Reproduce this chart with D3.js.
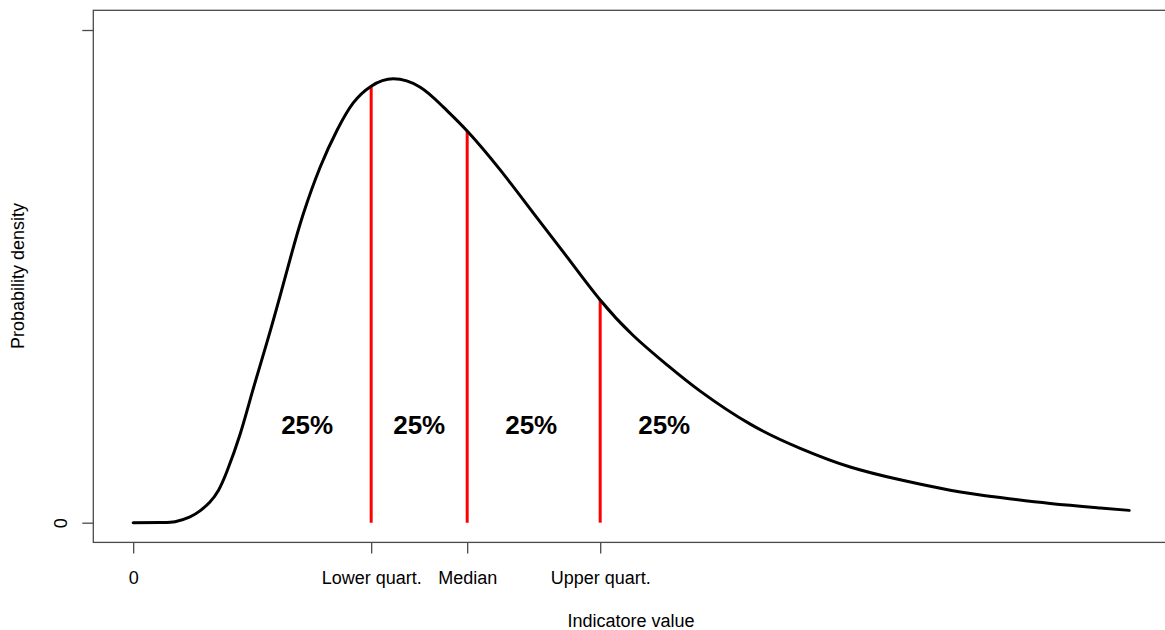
<!DOCTYPE html>
<html>
<head>
<meta charset="utf-8">
<script src="https://cdn.jsdelivr.net/npm/d3@7"></script>
<style>
  html, body { margin: 0; padding: 0; background: #fff; }
  svg { display: block; font-family: "Liberation Sans", Arial, sans-serif; }
</style>
</head>
<body>
<div id="chart"></div>
<script>
// density curve (x = indicator value, y = density)
const curveX = [0, 0.27, 0.42, 0.57, 0.67, 0.77, 0.856, 0.94, 1.07, 1.2, 1.34, 1.47, 1.585, 1.705, 1.876, 2.046, 2.207,
  2.387, 2.608, 2.879, 3.109, 3.35, 3.681, 4.012, 4.353, 4.684, 5.015, 5.356, 5.687, 6.189, 6.69, 7.192, 7.693, 8.195,
  8.696, 9.198, 9.699, 9.99];
const curveY = [0, 0.0004, 0.002, 0.012, 0.024, 0.042, 0.066, 0.104, 0.178, 0.269, 0.365, 0.458, 0.543, 0.626, 0.722,
  0.797, 0.852, 0.886, 0.901, 0.884, 0.844, 0.795, 0.716, 0.629, 0.539, 0.452, 0.38, 0.32, 0.267, 0.2, 0.151, 0.113,
  0.087, 0.066, 0.051, 0.039, 0.03, 0.025];

// quartile positions and the height of the red lines
const quartX = [2.387, 3.35, 4.684];
const quartY = [0.886, 0.795, 0.452];

// x axis ticks
const xTicks = [0, 2.387, 3.35, 4.684];
const xTickLabels = ['0', 'Lower quart.', 'Median', 'Upper quart.'];

// y axis ticks (top tick has no label)
const yTicks = [0, 1];
const yTickLabels = ['0', ''];

// percentage labels
const pctX = [1.745, 2.869, 3.992, 5.326];
const pctY = [0.2, 0.2, 0.2, 0.2];
const pctLabels = ['25%', '25%', '25%', '25%'];

const width = 1165;
const height = 630;

const svg = d3.select('#chart')
  .append('svg')
  .attr('width', width)
  .attr('height', height);

const xScale = d3.scaleLinear().domain([-0.4, 10.4]).range([93.3, 1170.1]);
const yScale = d3.scaleLinear().domain([-0.04, 1.04]).range([542.4, 10.3]);

// plot box
svg.append('rect')
  .attr('x', xScale(-0.4))
  .attr('y', yScale(1.04))
  .attr('width', xScale(10.4) - xScale(-0.4))
  .attr('height', yScale(-0.04) - yScale(1.04))
  .attr('fill', 'none')
  .attr('stroke', '#4a4a4a')
  .attr('stroke-width', 1.3);

// x axis (ticks only, box draws the line)
const xAxis = d3.axisBottom(xScale)
  .tickValues(xTicks)
  .tickFormat((d, i) => xTickLabels[i])
  .tickSizeOuter(0)
  .tickSizeInner(11)
  .tickPadding(18);

const gx = svg.append('g')
  .attr('transform', `translate(0, ${yScale(-0.04)})`)
  .call(xAxis);
gx.select('.domain').remove();
gx.selectAll('line').attr('stroke', '#4a4a4a').attr('stroke-width', 1.3);
gx.selectAll('text')
  .attr('fill', '#000')
  .style('font-size', '18px')
  .style('font-family', '"Liberation Sans", Arial, sans-serif');

// y axis
const yAxis = d3.axisLeft(yScale)
  .tickValues(yTicks)
  .tickFormat((d, i) => yTickLabels[i])
  .tickSizeOuter(0)
  .tickSizeInner(11);

const gy = svg.append('g')
  .attr('transform', `translate(${xScale(-0.4)}, 0)`)
  .call(yAxis);
gy.select('.domain').remove();
gy.selectAll('line').attr('stroke', '#4a4a4a').attr('stroke-width', 1.3);
gy.selectAll('text')
  .attr('x', 0)
  .attr('dy', 0)
  .attr('text-anchor', 'middle')
  .attr('transform', 'translate(-26, 0) rotate(-90)')
  .attr('fill', '#000')
  .style('font-size', '18px')
  .style('font-family', '"Liberation Sans", Arial, sans-serif');

// axis titles
svg.append('text')
  .attr('x', 631)
  .attr('y', 627)
  .attr('text-anchor', 'middle')
  .style('font-size', '18px')
  .text('Indicatore value');

svg.append('text')
  .attr('transform', `translate(24, ${276}) rotate(-90)`)
  .attr('text-anchor', 'middle')
  .style('font-size', '18px')
  .text('Probability density');

// red quartile lines
svg.append('g')
  .selectAll('line')
  .data(quartX)
  .join('line')
  .attr('x1', (d) => xScale(d))
  .attr('x2', (d) => xScale(d))
  .attr('y1', yScale(0))
  .attr('y2', (d, i) => yScale(quartY[i]))
  .attr('stroke', '#ff0000')
  .attr('stroke-width', 3);

// density curve
const line = d3.line()
  .x((d) => xScale(d[0]))
  .y((d) => yScale(d[1]))
  .curve(d3.curveNatural);

svg.append('path')
  .datum(d3.zip(curveX, curveY))
  .attr('d', line)
  .attr('fill', 'none')
  .attr('stroke', '#000')
  .attr('stroke-width', 3)
  .attr('stroke-linecap', 'round');

// 25% labels
svg.append('g')
  .selectAll('text')
  .data(pctLabels)
  .join('text')
  .attr('x', (d, i) => xScale(pctX[i]))
  .attr('y', (d, i) => yScale(pctY[i]))
  .attr('dy', '0.36em')
  .attr('text-anchor', 'middle')
  .style('font-size', '26px')
  .style('font-weight', 'bold')
  .text((d) => d);
</script>
</body>
</html>
